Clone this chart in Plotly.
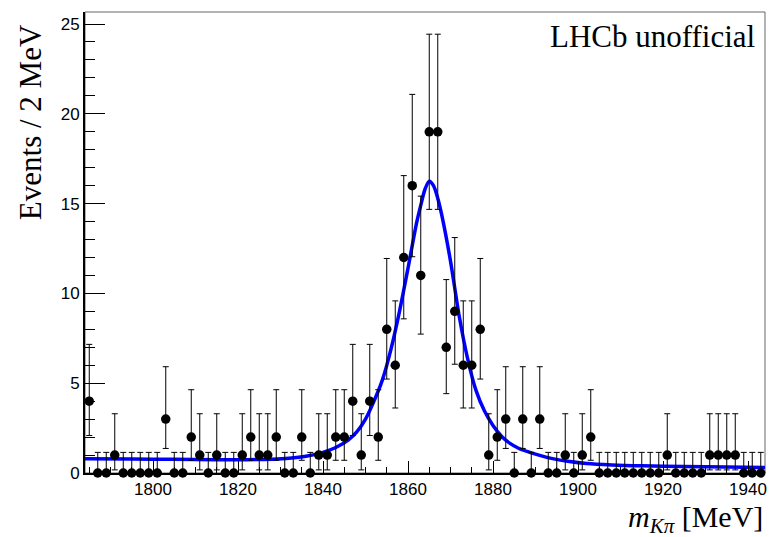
import math
import plotly.graph_objects as go

# ---------------- data ----------------
bin_lo, bin_width, n_bins = 1784, 2, 80
bin_centers = [bin_lo + bin_width * (i + 0.5) for i in range(n_bins)]
counts = [4, 0, 0, 1, 0, 0, 0, 0, 0, 3,
          0, 0, 2, 1, 0, 1, 0, 0, 1, 2,
          1, 1, 2, 0, 0, 2, 0, 1, 1, 2,
          2, 4, 1, 4, 2, 8, 6, 12, 16, 11,
          19, 19, 7, 9, 6, 6, 8, 1, 2, 3,
          0, 3, 0, 3, 0, 0, 1, 0, 1, 2,
          0, 0, 0, 0, 0, 0, 0, 0, 1, 0,
          0, 0, 0, 1, 1, 1, 1, 0, 0, 0]

# fitted curve
fit_mass = [1784, 1795, 1805, 1815, 1822, 1828, 1832, 1836, 1840, 1843,
            1846, 1848, 1850, 1852, 1854, 1856, 1858, 1860, 1862, 1863,
            1864, 1865, 1866, 1867, 1868, 1870, 1872, 1874, 1876, 1878,
            1880, 1882, 1884, 1886, 1888, 1891, 1894, 1898, 1902, 1908,
            1915, 1925, 1935, 1944]
fit_value = [0.80, 0.78, 0.76, 0.74, 0.74, 0.77, 0.82, 0.93, 1.15, 1.42,
             1.85, 2.30, 3.00, 4.00, 5.20, 6.90, 9.00, 11.40, 13.90, 14.90,
             15.80, 16.25, 16.00, 15.30, 14.30, 11.80, 8.80, 6.40, 4.60, 3.45,
             2.65, 2.05, 1.65, 1.38, 1.20, 0.98, 0.80, 0.64, 0.53, 0.45,
             0.40, 0.36, 0.33, 0.31]

x_range = [1784, 1944]
y_range = [0, 25.67]


# ---------------- Poisson (68.27% central) intervals ----------------
def pois_cdf(n, mu):
    s, term = 0.0, math.exp(-mu)
    for k in range(n + 1):
        if k > 0:
            term *= mu / k
        s += term
    return s


cl = 0.682689
alpha = (1 - cl) / 2
err_up, err_dn = [], []
for n in counts:
    if n == 0:
        lo, up = 0.0, -math.log(1 - cl)
    else:
        # upper: P(X<=n | mu) = alpha  (decreasing in mu)
        a, b = float(n), float(n) + 50
        for _ in range(200):
            mid = 0.5 * (a + b)
            if pois_cdf(n, mid) > alpha:
                a = mid
            else:
                b = mid
        up = 0.5 * (a + b)
        # lower: P(X>=n | mu) = alpha  (increasing in mu)
        a, b = 0.0, float(n)
        for _ in range(200):
            mid = 0.5 * (a + b)
            if 1 - pois_cdf(n - 1, mid) < alpha:
                a = mid
            else:
                b = mid
        lo = 0.5 * (a + b)
    err_up.append(up - n)
    err_dn.append(n - lo)

# ---------------- figure ----------------
L, R, T, B = 85, 3, 12, 64
W, H = 770, 537
pw, ph = W - L - R, H - T - B


def px2paper_x(px):
    return (px - L) / pw


def py2paper_y(py):
    return (H - B - py) / ph


fig = go.Figure()

fig.add_trace(go.Scatter(
    x=fit_mass, y=fit_value, mode="lines",
    line=dict(color="#0000ff", width=3.5, shape="spline", smoothing=0.8),
    hoverinfo="skip", showlegend=False))

fig.add_trace(go.Scatter(
    x=bin_centers, y=counts, mode="markers",
    marker=dict(color="black", size=9.5, symbol="circle"),
    error_y=dict(type="data", symmetric=False, array=err_up, arrayminus=err_dn,
                 color="black", thickness=1, width=3),
    cliponaxis=False, showlegend=False))

tickfont = dict(family="Liberation Sans, Arial, sans-serif", size=17, color="black")

fig.update_xaxes(range=x_range, showgrid=False, zeroline=False,
                 showline=True, linecolor="black", linewidth=2,
                 ticks="inside", ticklen=12, tickwidth=1, tickcolor="black",
                 dtick=20, tick0=1800, tickfont=tickfont,
                 minor=dict(ticks="inside", ticklen=6, dtick=5, tick0=1800,
                            tickcolor="black", tickwidth=1, showgrid=False))
fig.update_yaxes(range=y_range, showgrid=False, zeroline=False,
                 showline=True, linecolor="black", linewidth=2,
                 ticks="inside", ticklen=20, tickwidth=1, tickcolor="black",
                 dtick=5, tick0=0, tickfont=tickfont,
                 minor=dict(ticks="inside", ticklen=10, dtick=1, tick0=0,
                            tickcolor="black", tickwidth=1, showgrid=False))

serif = "Liberation Serif, Times New Roman, serif"

fig.add_shape(type="rect", xref="paper", yref="paper", x0=0, y0=0, x1=1, y1=1,
              line=dict(color="#666666", width=1), layer="below")

fig.add_annotation(text="Events / 2 MeV", textangle=-90, showarrow=False,
                   xref="paper", yref="paper",
                   x=px2paper_x(31), y=py2paper_y(22), xanchor="center", yanchor="top",
                   font=dict(family=serif, size=31, color="black"))
fig.add_annotation(text="<i>m</i><sub><i>Kπ</i></sub> [MeV]", showarrow=False,
                   xref="paper", yref="paper",
                   x=px2paper_x(767), y=py2paper_y(540), xanchor="right", yanchor="bottom",
                   font=dict(family=serif, size=30, color="black"))
fig.add_annotation(text="LHCb unofficial", showarrow=False,
                   xref="paper", yref="paper",
                   x=px2paper_x(759), y=py2paper_y(17), xanchor="right", yanchor="top",
                   font=dict(family=serif, size=31, color="black"))

fig.update_layout(width=W, height=H, margin=dict(l=L, r=R, t=T, b=B),
                  plot_bgcolor="white", paper_bgcolor="white")

fig.write_html("out.html")
